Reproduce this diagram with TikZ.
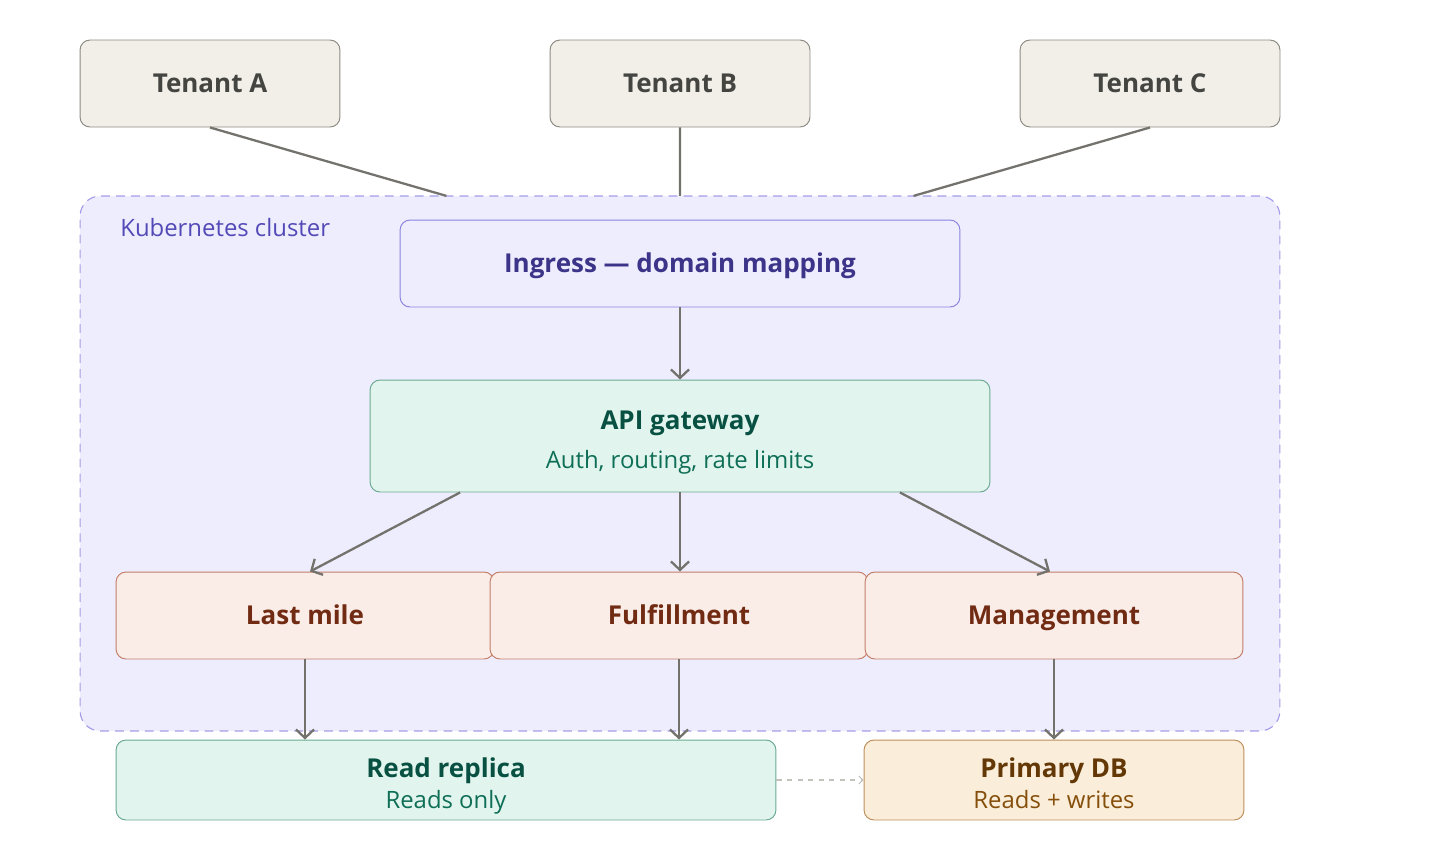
\documentclass[tikz,border=0pt]{standalone}
\usepackage{fontspec}
\setmainfont{Open Sans}
\usepackage{tikz}
\usetikzlibrary{arrows.meta,calc,positioning}
\definecolor{tenFill}{HTML}{F1EFE8}
\definecolor{tenLine}{HTML}{8C8A83}
\definecolor{tenInk}{HTML}{444441}
\definecolor{k8sFill}{HTML}{EEEDFE}
\definecolor{k8sDash}{HTML}{A39CE6}
\definecolor{k8sInk}{HTML}{534AB7}
\definecolor{ingLine}{HTML}{8A83DE}
\definecolor{ingInk}{HTML}{3C3489}
\definecolor{gateFill}{HTML}{E1F5EE}
\definecolor{gateLine}{HTML}{6AAA92}
\definecolor{gateInk}{HTML}{085041}
\definecolor{gateSub}{HTML}{0F6E56}
\definecolor{svcFill}{HTML}{FAECE7}
\definecolor{svcLine}{HTML}{C27E68}
\definecolor{svcInk}{HTML}{712B13}
\definecolor{dbFill}{HTML}{FAEEDA}
\definecolor{dbLine}{HTML}{BE8E5A}
\definecolor{dbInk}{HTML}{633806}
\definecolor{dbSub}{HTML}{854F0B}
\definecolor{flowInk}{HTML}{73726C}
\definecolor{syncInk}{HTML}{C2C1BC}
\newcommand{\archtitle}{\fontsize{14.8}{18}\selectfont\bfseries}
\newcommand{\archsub}{\fontsize{13.6}{16}\selectfont}
\tikzset{
  archbox/.style={rounded corners=0.2cm, line width=0.55pt,
    inner sep=0pt, font=\archtitle, text height=10.6pt, text depth=0pt},
  archtext/.style={inner sep=0pt, text height=10.6pt, text depth=0pt,
    font=\archtitle},
  archsubtext/.style={inner sep=0pt, text height=9.7pt, text depth=0pt,
    font=\archsub},
  archtenant/.style={archbox, draw=tenLine, fill=tenFill, text=tenInk,
    minimum width=5.2cm, minimum height=1.74cm},
  archcluster/.style={rounded corners=0.4cm, draw=k8sDash, fill=k8sFill,
    dash pattern=on 5pt off 3.5pt, line width=0.65pt},
  archingress/.style={archbox, draw=ingLine, fill=k8sFill, text=ingInk,
    minimum width=11.2cm, minimum height=1.74cm},
  archgate/.style={archbox, draw=gateLine, fill=gateFill},
  archsvc/.style={archbox, draw=svcLine, fill=svcFill, text=svcInk,
    minimum width=7.56cm, minimum height=1.74cm},
  archprimary/.style={archbox, draw=dbLine, fill=dbFill},
  archflow/.style={-{Straight Barb[length=1.7mm,width=3.6mm]}, draw=flowInk,
    line width=1.3pt},
  archlink/.style={draw=flowInk, line width=1.3pt},
  archsync/.style={-{Straight Barb[length=0.8mm,width=1.6mm]}, draw=syncInk,
    dashed, line width=0.6pt},
}

\begin{document}
\begin{tikzpicture}[x=0.02cm,y=-0.02cm]
  \path[use as bounding box] (0,0) rectangle (1440,860);

  % cluster panel sits behind everything else
  \node[archcluster,minimum width=24cm,minimum height=10.7cm]
    (cluster) at (680,463.5) {};
  \node[font=\archsub,text=k8sInk,anchor=west,inner sep=0pt]
    (clusterlabel) at (120,228) {Kubernetes cluster};

  % tenants
  \node[archtenant] (tenA) at (210,83.5) {Tenant A};
  \node[archtenant] (tenB) at (680,83.5) {Tenant B};
  \node[archtenant] (tenC) at (1150,83.5) {Tenant C};

  % ingress and gateway
  \node[archingress] (ingress) at (680,263.5) {Ingress --- domain mapping};
  \node[archgate,minimum width=12.4cm,minimum height=2.24cm]
    (gateway) at (680,436) {};
  \node[archtext,text=gateInk] (gatewaytitle) at (680,420) {API gateway};
  \node[archsubtext,text=gateSub] (gatewaysub) at (680,460)
    {Auth, routing, rate limits};

  % services
  \node[archsvc] (lastmile) at (305,615.5) {Last mile};
  \node[archsvc] (fulfil) at (679,615.5) {Fulfillment};
  \node[archsvc] (mgmt) at (1054,615.5) {Management};

  % data stores
  \node[archgate,minimum width=13.2cm,minimum height=1.6cm]
    (replica) at (446,780) {};
  \node[archtext,text=gateInk] (replicatitle) at (446,768) {Read replica};
  \node[archsubtext,text=gateSub] (replicasub) at (446,800) {Reads only};
  \node[archprimary,minimum width=7.6cm,minimum height=1.6cm]
    (primary) at (1054,780) {};
  \node[archtext,text=dbInk] (primarytitle) at (1054,768) {Primary DB};
  \node[archsubtext,text=dbSub] (primarysub) at (1054,800) {Reads + writes};

  % tenant traffic enters the cluster edge
  \draw[archlink] (tenA.south) -- ($(tenA.south)!0.503!(ingress.center)$);
  \draw[archlink] (tenB.south) -- ($(tenB.south)!0.503!(ingress.center)$);
  \draw[archlink] (tenC.south) -- ($(tenC.south)!0.503!(ingress.center)$);

  \draw[archflow] (ingress.south) -- (gateway.north);
  \draw[archflow] ([xshift=-4.4cm]gateway.south) -- ([xshift=0.1cm]lastmile.north);
  \draw[archflow] (gateway.south) -- ([xshift=0.02cm]fulfil.north);
  \draw[archflow] ([xshift=4.4cm]gateway.south) -- ([xshift=-0.08cm]mgmt.north);

  \draw[archflow] (lastmile.south) -- (lastmile.south |- replica.north);
  \draw[archflow] (fulfil.south) -- (fulfil.south |- replica.north);
  \draw[archflow] (mgmt.south) -- (primary.north);
  \draw[archsync] (replica.east) -- (primary.west);
\end{tikzpicture}
\end{document}
